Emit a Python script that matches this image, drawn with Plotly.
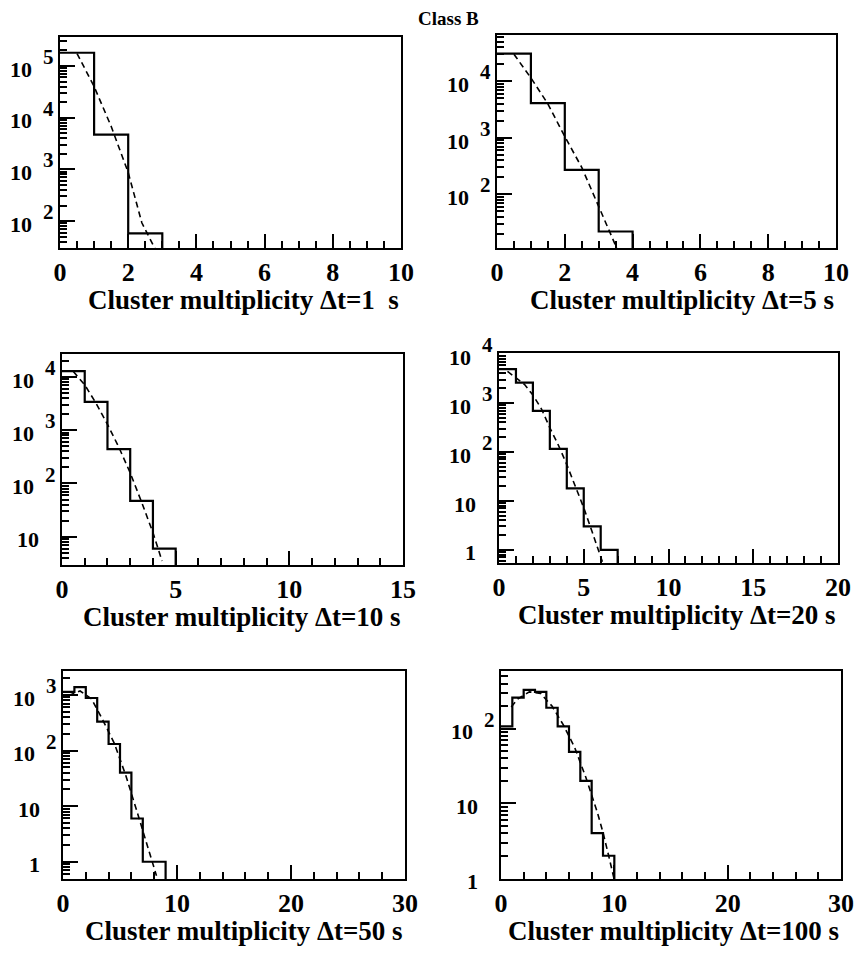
import math
import plotly.graph_objects as go

# ---------------- data ----------------
panel_labels = ["1\u00a0 s", "5 s", "10 s", "20 s", "50 s", "100 s"]

# histogram counts, unit-width bins starting at 0
counts_1s = [180000, 4700, 58]
counts_5s = [31000, 4100, 270, 22]
counts_10s = [12800, 3400, 440, 47, 6]
counts_20s = [4900, 2600, 690, 115, 18, 3, 1]
counts_50s = [1130, 1380, 880, 330, 131, 40, 6, 1, 1]
counts_100s = [107, 260, 330, 310, 190, 107, 49, 20, 4, 2]

# dashed fit curves
fit_x_1s = [0.5, 1.0, 1.5, 2.0, 2.4, 2.8]
fit_y_1s = [174000, 40000, 6800, 870, 93, 28]
fit_x_5s = [0.5, 1.0, 1.5, 2.0, 2.5, 3.0, 3.5, 3.6]
fit_y_5s = [30200, 11500, 4000, 1050, 300, 60, 12.6, 9]
fit_x_10s = [0.5, 1.0, 1.5, 2.0, 2.5, 3.0, 3.5, 4.0, 4.4]
fit_y_10s = [12600, 7100, 3200, 1290, 480, 158, 45, 12, 3.5]
fit_x_20s = [0.5, 1.0, 1.5, 2.0, 2.5, 3.0, 3.5, 4.0, 4.5, 5.0, 5.5, 6.0, 6.2]
fit_y_20s = [4400, 3300, 2400, 1450, 760, 310, 138, 55, 19.5, 7.2, 2.3, 0.7, 0.45]
fit_x_50s = [0.5, 1.5, 2.5, 3.0, 3.5, 4.5, 5.5, 6.5, 7.0, 7.5, 8.0, 8.2]
fit_y_50s = [980, 1175, 850, 560, 350, 135, 36, 7.9, 3.6, 1.66, 0.76, 0.56]
fit_x_100s = [0.9, 1.5, 2.5, 3.5, 4.5, 5.5, 6.5, 7.5, 8.5, 9.0, 9.5, 9.9, 10.0]
fit_y_100s = [195, 250, 310, 295, 200, 112, 56, 22, 7.6, 4.1, 2.0, 1.05, 0.95]

x_ranges = [[0, 10], [0, 10], [0, 15], [0, 20], [0, 30], [0, 30]]
x_tickvals = [[0, 2, 4, 6, 8, 10], [0, 2, 4, 6, 8, 10], [0, 5, 10, 15],
              [0, 5, 10, 15, 20], [0, 10, 20, 30], [0, 10, 20, 30]]
x_minor_step = [0.5, 0.5, 1, 1, 2, 2]
y_log_ranges = [[1.48, 5.56], [1.05, 4.82], [0.47, 4.43], [-0.27, 4.02],
                [-0.31, 3.43], [-0.01, 2.77]]

counts = [counts_1s, counts_5s, counts_10s, counts_20s, counts_50s, counts_100s]
fits_x = [fit_x_1s, fit_x_5s, fit_x_10s, fit_x_20s, fit_x_50s, fit_x_100s]
fits_y = [fit_y_1s, fit_y_5s, fit_y_10s, fit_y_20s, fit_y_50s, fit_y_100s]

# ---------------- layout (pixel frames of each panel) ----------------
W, H = 858, 954
frames = [(60, 401, 37, 248), (497, 836, 35, 248),
          (62, 403, 354, 565), (499, 838, 353, 563),
          (63, 405, 671, 879), (501, 841, 671, 879)]

FONT = "Liberation Serif"
NB = "\u00a0"
fig = go.Figure()


def dec_label(d):
    if d == 0:
        return "1" + NB * 3
    if d == 1:
        return "10" + NB * 3
    return "10" + NB * 2 + "<span style='font-size:30px'><sup>%d</sup></span>" % d


for i in range(6):
    n = i + 1
    xa = "x" if n == 1 else "x%d" % n
    ya = "y" if n == 1 else "y%d" % n
    c = counts[i]
    edges = list(range(len(c) + 1))
    hx = edges + [edges[-1]]
    hy = c + [c[-1], 1e-3]
    fig.add_trace(go.Scatter(x=hx, y=hy, mode="lines", line_shape="hv",
                             line=dict(color="black", width=2.2),
                             xaxis=xa, yaxis=ya, showlegend=False))
    fig.add_trace(go.Scatter(x=fits_x[i], y=fits_y[i], mode="lines",
                             line=dict(color="black", width=1.6, dash="6px,4px"),
                             xaxis=xa, yaxis=ya, showlegend=False))

    x0, x1, y0, y1 = frames[i]
    lo, hi = y_log_ranges[i]
    decs = [d for d in range(-2, 7) if lo <= d <= hi]
    minors = []
    for d in range(-1, 7):
        for k in range(2, 10):
            v = k * 10 ** d
            if lo <= math.log10(v) <= hi:
                minors.append(v)
    xmin_ticks = []
    v = x_ranges[i][0]
    while v <= x_ranges[i][1] + 1e-9:
        xmin_ticks.append(v)
        v += x_minor_step[i]

    axis_common = dict(showline=True, linewidth=2, linecolor="black", mirror=True,
                       showgrid=False, zeroline=False, ticks="inside",
                       tickcolor="black", tickwidth=1.5, automargin=False)
    fig.layout["xaxis" if n == 1 else "xaxis%d" % n] = dict(
        axis_common, domain=[x0 / W, x1 / W], anchor=ya, range=x_ranges[i],
        tickmode="array", tickvals=x_tickvals[i], ticklen=14,
        tickfont=dict(family=FONT, size=26, color="black", weight="bold"),
        minor=dict(tickmode="array", tickvals=xmin_ticks, ticks="inside",
                   ticklen=7, tickcolor="black", tickwidth=1.5))
    fig.layout["yaxis" if n == 1 else "yaxis%d" % n] = dict(
        axis_common, domain=[1 - y1 / H, 1 - y0 / H], anchor=xa, type="log",
        range=[lo, hi], tickmode="array", tickvals=[10 ** d for d in decs],
        ticktext=[dec_label(d) for d in decs], ticklen=15, ticklabelshift=3,
        tickfont=dict(family=FONT, size=22, color="black", weight="bold"),
        minor=dict(tickmode="array", tickvals=minors, ticks="inside",
                   ticklen=7, tickcolor="black", tickwidth=1.5))
    fig.add_annotation(text="Cluster multiplicity \u0394t=" + panel_labels[i],
                       xref="%s domain" % xa, yref="%s domain" % ya,
                       x=1, y=0, xanchor="right", yanchor="middle", yshift=-52,
                       showarrow=False,
                       font=dict(family=FONT, size=27, color="black", weight="bold"))

fig.add_annotation(text="Class B", xref="paper", yref="paper", x=448 / W, y=1 - 19 / H,
                   xanchor="center", yanchor="middle", showarrow=False,
                   font=dict(family=FONT, size=19, color="black", weight="bold"))

fig.update_layout(width=W, height=H, margin=dict(l=0, r=0, t=0, b=0, autoexpand=False),
                  paper_bgcolor="white", plot_bgcolor="white")
fig.write_html("out.html")
